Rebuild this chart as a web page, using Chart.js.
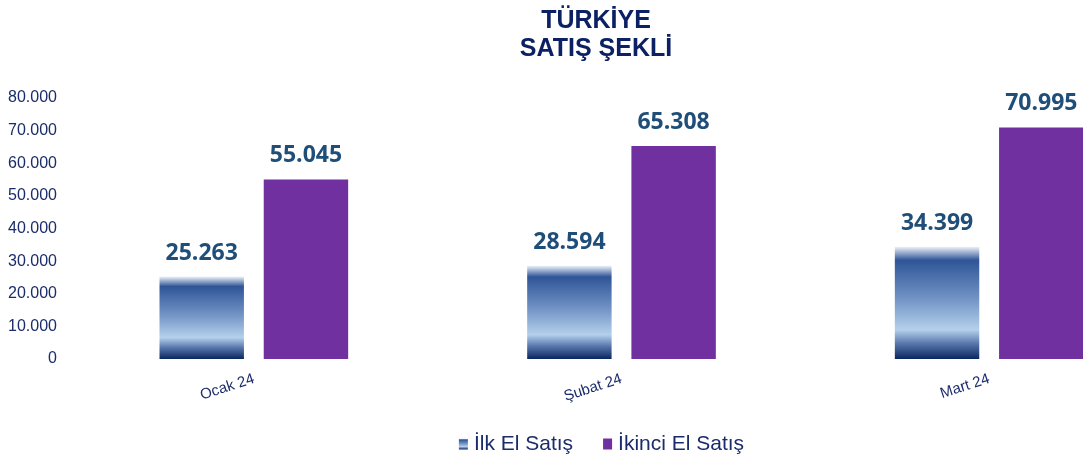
<!DOCTYPE html>
<html><head><meta charset="utf-8">
<script src="https://cdn.jsdelivr.net/npm/chart.js@4.4.1/dist/chart.umd.min.js"></script>
<style>html,body{margin:0;padding:0;background:#fff;overflow:hidden;width:1083px;height:464px}#w{width:1196px;height:464px}</style>
</head><body><div id="w"><canvas id="c" width="1196" height="464"></canvas></div>
<script>
const categories = ['Ocak 24', 'Şubat 24', 'Mart 24'];
const ilkEl = [25263, 28594, 34399];
const ikinciEl = [55045, 65308, 70995];
const seriesNames = ['İlk El Satış', 'İkinci El Satış'];
const titleLines = ['TÜRKİYE', 'SATIŞ ŞEKLİ'];

const NAVY = '#1a2c6b';
const PURPLE = '#7030a0';
const FONT = '"Liberation Sans", Arial, sans-serif';
function fmt(v){ return v.toString().replace(/\B(?=(\d{3})+(?!\d))/g, '.'); }
function addStops(g){
  g.addColorStop(0, '#eef2f9');
  g.addColorStop(0.12, '#2f5597');
  g.addColorStop(0.45, '#6f91c3');
  g.addColorStop(0.74, '#b4d0ec');
  g.addColorStop(0.86, '#5a78ad');
  g.addColorStop(1, '#0a2660');
  return g;
}
function blueGrad(context){
  const chart = context.chart;
  if (!chart.chartArea || context.dataIndex === undefined) return '#5b7fb8';
  const y = chart.scales.y;
  const top = y.getPixelForValue(context.raw);
  const bot = y.getPixelForValue(0);
  return addStops(chart.ctx.createLinearGradient(0, top, 0, bot));
}
const labelPlugin = {
  id: 'vlabels',
  afterDatasetsDraw(chart){
    const ctx = chart.ctx;
    ctx.save();
    ctx.font = 'bold 23px "Open Sans"';
    ctx.fillStyle = '#1f4e79';
    ctx.textAlign = 'center';
    ctx.textBaseline = 'bottom';
    chart.data.datasets.forEach((ds, i) => {
      chart.getDatasetMeta(i).data.forEach((bar, j) => {
        ctx.fillText(fmt(ds.data[j]), bar.x, bar.y - 12);
      });
    });
    ctx.restore();
  },
  afterDraw(chart){
    const ctx = chart.ctx;
    ctx.save();
    // title
    ctx.font = 'bold 25px ' + FONT;
    ctx.fillStyle = '#0b2163';
    ctx.textAlign = 'center';
    ctx.textBaseline = 'middle';
    titleLines.forEach((t, i) => ctx.fillText(t, 596, 21 + i * 28));
    // legend drawn at the bottom, centred
    ctx.font = '21px ' + FONT;
    ctx.textAlign = 'left';
    const bw = 9, bh = 11, gapBox = 6, gapItem = 30;
    const w0 = ctx.measureText(seriesNames[0]).width;
    const w1 = ctx.measureText(seriesNames[1]).width;
    const total = bw + gapBox + w0 + gapItem + bw + gapBox + w1;
    let x = 601.5 - total / 2;
    const cy = 444;
    const by = cy - bh / 2;
    ctx.fillStyle = addStops(ctx.createLinearGradient(0, by, 0, by + bh));
    ctx.fillRect(x, by, bw, bh);
    x += bw + gapBox;
    ctx.fillStyle = NAVY;
    ctx.fillText(seriesNames[0], x, cy);
    x += w0 + gapItem;
    ctx.fillStyle = PURPLE;
    ctx.fillRect(x, by, bw, bh);
    x += bw + gapBox;
    ctx.fillStyle = NAVY;
    ctx.fillText(seriesNames[1], x, cy);
    ctx.restore();
  }
};

new Chart(document.getElementById('c'), {
  type: 'bar',
  data: {
    labels: categories,
    datasets: [
      { label: seriesNames[0], data: ilkEl, backgroundColor: blueGrad, borderWidth: 0 },
      { label: seriesNames[1], data: ikinciEl, backgroundColor: PURPLE, borderWidth: 0 }
    ]
  },
  options: {
    responsive: false,
    animation: false,
    devicePixelRatio: 1,
    categoryPercentage: 0.567,
    barPercentage: 0.81,
    layout: { padding: { left: 8, right: 23, top: 98, bottom: 60 } },
    plugins: {
      title: { display: false },
      legend: { display: false },
      tooltip: { enabled: false }
    },
    scales: {
      x: {
        grid: { display: false, drawTicks: false }, border: { display: false },
        afterFit: s => { s.height = 45; },
        ticks: { color: NAVY, font: { family: FONT, size: 15 }, maxRotation: 18, minRotation: 18, padding: 11 }
      },
      y: {
        min: 0, max: 80000,
        grid: { display: false, drawTicks: false }, border: { display: false },
        afterFit: s => { s.width = 62; },
        ticks: { stepSize: 10000, color: NAVY, font: { family: FONT, size: 16 }, padding: 13, callback: v => fmt(v) }
      }
    }
  },
  plugins: [labelPlugin]
});
</script></body></html>
